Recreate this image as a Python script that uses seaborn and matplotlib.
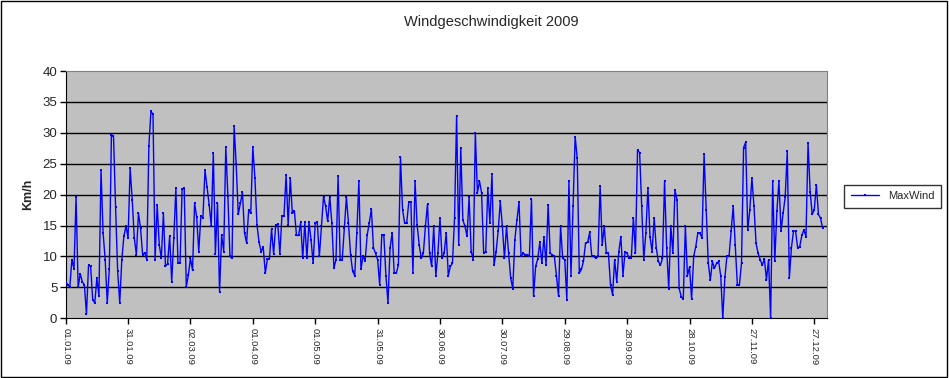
import matplotlib
matplotlib.use('Agg')
import matplotlib.pyplot as plt
import matplotlib.patches as patches
import numpy as np
import pandas as pd
import seaborn as sns

# Daily maximum wind speed 2009 (km/h), one list per month
jan = [5.9, 5.4, 5.1, 9.5, 8.0, 19.6, 5.0, 7.2, 5.9, 5.4,
       0.7, 8.6, 8.4, 3.0, 2.5, 6.5, 3.6, 24.0, 13.8, 9.5,
       2.5, 8.0, 29.7, 29.5, 18.0, 7.6, 2.5, 9.5, 13.3, 14.9, 13.0]
feb = [24.3, 19.2, 13.0, 10.3, 17.0, 14.6, 10.3, 10.6, 9.5, 27.8,
       33.5, 33.0, 9.4, 18.4, 11.9, 9.7, 17.0, 8.4, 8.8, 13.3,
       5.9, 13.0, 21.0, 9.0, 9.0, 20.9, 21.0, 5.1]
mar = [7.0, 9.7, 7.8, 18.6, 16.4, 10.8, 16.5, 16.3, 24.0, 21.2,
       18.4, 15.0, 26.7, 10.4, 18.7, 4.3, 13.4, 10.8, 27.7, 19.8,
       10.0, 9.7, 31.1, 24.9, 16.8, 18.6, 20.4, 13.8, 12.2, 17.5, 17.0]
apr = [27.7, 22.7, 15.1, 12.3, 10.8, 11.5, 7.3, 9.6, 9.6, 14.4,
       10.4, 15.1, 15.2, 10.4, 16.6, 16.6, 23.2, 15.1, 22.7, 17.0,
       17.3, 13.4, 13.4, 15.5, 9.7, 15.5, 9.7, 15.5, 12.7, 8.9]
may = [15.4, 15.5, 10.0, 14.9, 19.7, 18.1, 15.7, 19.7, 15.4, 8.1,
       9.5, 23.0, 9.5, 9.5, 14.6, 19.6, 15.4, 10.3, 7.6, 6.9,
       13.8, 22.2, 7.9, 10.1, 9.3, 13.5, 15.4, 17.7, 11.4, 10.5, 9.5]
jun = [5.4, 13.4, 13.4, 6.9, 2.5, 11.4, 13.8, 7.3, 7.3, 8.6,
       26.1, 17.6, 15.4, 15.4, 18.8, 18.8, 7.3, 22.2, 15.1, 11.9,
       9.7, 10.5, 14.9, 18.5, 10.5, 8.4, 14.9, 6.9, 10.5, 16.2]
jul = [9.7, 10.5, 13.8, 6.9, 8.4, 8.9, 16.2, 32.8, 11.9, 27.6,
       15.9, 14.9, 13.3, 19.6, 10.8, 9.5, 30.0, 20.3, 22.2, 20.3,
       10.5, 10.8, 21.1, 15.4, 23.4, 8.6, 10.8, 14.2, 18.9, 14.9, 9.7]
aug = [14.9, 10.5, 6.5, 4.8, 12.7, 15.9, 18.8, 10.0, 10.5, 10.3,
       10.3, 10.1, 19.3, 3.6, 8.4, 9.6, 12.3, 8.9, 13.2, 8.6,
       18.4, 10.5, 10.3, 10.0, 6.9, 3.6, 14.9, 9.7, 9.5, 3.0, 22.2]
sep = [6.9, 18.2, 29.4, 25.9, 7.3, 7.9, 9.2, 12.2, 12.3, 13.9,
       10.0, 10.0, 9.7, 10.0, 21.4, 11.9, 14.9, 10.5, 10.5, 5.4,
       3.8, 9.5, 5.9, 10.8, 13.2, 6.9, 10.8, 10.5, 9.7, 9.7]
okt = [16.2, 10.5, 27.2, 26.8, 18.1, 9.5, 13.8, 21.1, 13.2, 10.8,
       16.2, 11.4, 9.2, 8.6, 9.7, 22.2, 11.4, 4.8, 14.9, 10.5,
       20.7, 19.2, 4.9, 3.5, 3.1, 14.9, 6.9, 8.3, 3.1, 10.0, 11.6]
nov = [13.8, 13.8, 13.0, 26.5, 17.6, 9.0, 6.2, 9.2, 8.1, 8.9,
       9.2, 6.9, 0.0, 6.6, 10.1, 10.0, 14.1, 18.1, 11.9, 5.4,
       5.4, 9.0, 27.6, 28.5, 14.3, 17.6, 22.7, 18.1, 12.1, 10.5]
dez = [9.5, 8.6, 9.6, 6.2, 9.5, 0.0, 22.2, 9.2, 17.3, 22.2,
       14.1, 17.0, 19.6, 27.0, 6.5, 11.4, 14.1, 14.1, 11.4, 11.6,
       13.4, 14.3, 13.2, 28.3, 20.5, 16.8, 17.6, 21.6, 16.8, 16.2, 14.6]

tick_labels = ['01.01.09', '31.01.09', '02.03.09', '01.04.09', '01.05.09',
               '31.05.09', '30.06.09', '30.07.09', '29.08.09', '28.09.09',
               '28.10.09', '27.11.09', '27.12.09']

max_wind = np.concatenate([jan, feb, mar, apr, may, jun, jul, aug, sep, okt, nov, dez])
df = pd.DataFrame({'Tag': np.arange(len(max_wind)), 'MaxWind': max_wind})

sns.set_style("ticks")
plt.rcParams['font.family'] = ['Liberation Sans', 'DejaVu Sans']

fig = plt.figure(figsize=(9.49, 3.78), dpi=100)
ax = fig.add_axes([0.0692, 0.158, 0.802, 0.654])

# Excel-style horizontal gridlines
for y in range(5, 40, 5):
    ax.axhline(y, color='black', lw=1, zorder=1)

sns.lineplot(data=df, x='Tag', y='MaxWind', ax=ax, color='#0000FF', lw=1,
             marker='s', markersize=1.7, markeredgewidth=0, label='MaxWind', zorder=3)

ax.set_facecolor('#C0C0C0')
ax.set_xlim(0, 366)
ax.set_ylim(0, 40)
ax.set_yticks(range(0, 41, 5))
ax.set_xticks(df['Tag'][::30])
ax.set_xticklabels(tick_labels, rotation=270, fontsize=6.8)
ax.tick_params(axis='y', labelsize=9.5, length=4, width=1, color='black', pad=2)
ax.tick_params(axis='x', length=4, width=1, color='black', pad=3)
ax.set_xlabel('')
ax.set_ylabel('Km/h', fontsize=9, fontweight='bold', labelpad=6)

for side in ['top', 'right']:
    ax.spines[side].set_color('#808080')
for side in ['left', 'bottom']:
    ax.spines[side].set_color('black')

fig.text(0.518, 0.942, 'Windgeschwindigkeit 2009', ha='center', va='center', fontsize=10.5)

leg = ax.legend(loc='center left', bbox_to_anchor=(0.884, 0.481), bbox_transform=fig.transFigure,
                frameon=True, fancybox=False, edgecolor='black', fontsize=8,
                handlelength=2.5, borderpad=0.6)
leg.get_frame().set_linewidth(1)

fig.patches.append(patches.Rectangle((0.001, 0.002), 0.997, 0.995, transform=fig.transFigure,
                                     fill=False, edgecolor='black', lw=1))

plt.savefig('out.png', dpi=100, facecolor='white')
